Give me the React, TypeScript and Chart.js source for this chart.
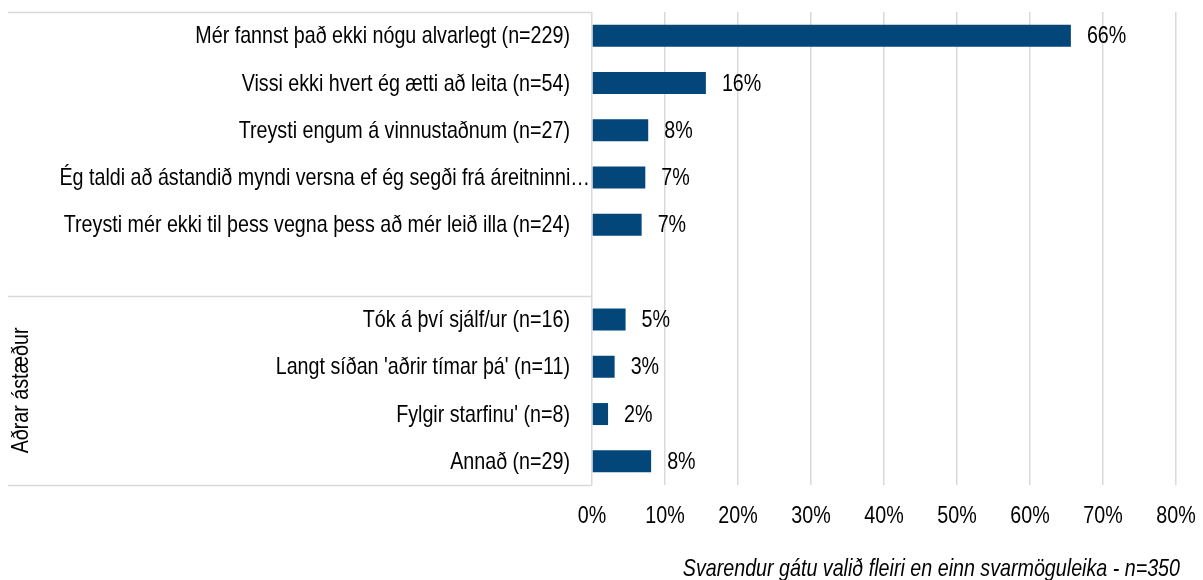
import React, { useEffect, useRef } from "react";
import { Chart, registerables } from "chart.js";

Chart.register(...registerables);

const categories: string[] = [
  "Mér fannst það ekki nógu alvarlegt (n=229)",
  "Vissi ekki hvert ég ætti að leita (n=54)",
  "Treysti engum á vinnustaðnum (n=27)",
  "Ég taldi að ástandið myndi versna ef ég segði frá áreitninni…",
  "Treysti mér ekki til þess vegna þess að mér leið illa (n=24)",
  "",
  "Tók á því sjálf/ur (n=16)",
  "Langt síðan 'aðrir tímar þá' (n=11)",
  "Fylgir starfinu' (n=8)",
  "Annað (n=29)",
];

const values: (number | null)[] = [65.6, 15.6, 7.7, 7.3, 6.8, null, 4.6, 3.1, 2.2, 8.1];

const xTicks: number[] = [0, 10, 20, 30, 40, 50, 60, 70, 80];

const groupLabel = "Aðrar ástæður";
const footnote = "Svarendur gátu valið fleiri en einn svarmöguleika - n=350";

const FONT = "'Liberation Sans', Arial, sans-serif";
const FS = 24;
const NARROW = 0.82;
const BAR = "#03467a";
const LINE = "#d9d9d9";

function narrowText(
  ctx: CanvasRenderingContext2D,
  text: string,
  x: number,
  y: number,
  align: CanvasTextAlign,
  italic = false,
  rotate = 0
) {
  ctx.save();
  ctx.font = `${italic ? "italic " : ""}${FS}px ${FONT}`;
  ctx.fillStyle = "#000";
  ctx.textAlign = align;
  ctx.textBaseline = "middle";
  ctx.translate(x, y);
  if (rotate) ctx.rotate(rotate);
  ctx.scale(NARROW, 1);
  ctx.fillText(text, 0, 0);
  ctx.restore();
}

const decorPlugin = {
  id: "decor",
  afterDatasetsDraw(chart: any) {
    const { ctx, chartArea, scales } = chart;
    const xs = scales.x;
    const ys = scales.y;
    const meta = chart.getDatasetMeta(0);
    ctx.save();
    // category labels
    categories.forEach((lab, i) => {
      if (!lab) return;
      const yy = ys.getPixelForTick(i) + 1;
      const right = lab.endsWith("…") ? chartArea.left - 2 : chartArea.left - 22;
      narrowText(ctx, lab, right, yy, "right");
    });
    // x tick labels
    xTicks.forEach((v) => {
      narrowText(ctx, v + "%", xs.getPixelForValue(v), chartArea.bottom + 31, "center");
    });
    // value labels
    meta.data.forEach((bar: any, i: number) => {
      const v = values[i];
      if (v == null) return;
      narrowText(ctx, Math.round(v) + "%", bar.x + 16, bar.y + 1, "left");
    });
    // group separator lines in label area
    const step = (chartArea.bottom - chartArea.top) / categories.length;
    const sepY = chartArea.top + step * 6;
    ctx.strokeStyle = LINE;
    ctx.lineWidth = 1.5;
    [chartArea.top, sepY, chartArea.bottom].forEach((yy) => {
      ctx.beginPath();
      ctx.moveTo(8, Math.round(yy) + 0.5);
      ctx.lineTo(chartArea.left, Math.round(yy) + 0.5);
      ctx.stroke();
    });
    // group label
    narrowText(ctx, groupLabel, 21, (sepY + chartArea.bottom) / 2, "center", false, -Math.PI / 2);
    // footnote
    narrowText(ctx, footnote, 1180, 569, "right", true);
    ctx.restore();
  },
};

export default function App() {
  const ref = useRef<HTMLCanvasElement | null>(null);
  useEffect(() => {
    if (!ref.current) return;
    const chart = new Chart(ref.current, {
      type: "bar",
      data: {
        labels: categories,
        datasets: [
          {
            data: values as any,
            backgroundColor: BAR,
            borderWidth: 0,
            barPercentage: 0.465,
            categoryPercentage: 1,
          },
        ],
      },
      options: {
        indexAxis: "y",
        animation: false,
        responsive: false,
        maintainAspectRatio: false,
        layout: { padding: { top: 12, right: 27, left: 0, bottom: 0 } },
        plugins: { legend: { display: false }, tooltip: { enabled: false } },
        scales: {
          x: {
            min: 0,
            max: 80,
            afterFit: (s: any) => {
              s.height = 95;
            },
            afterBuildTicks: (s: any) => {
              s.ticks = xTicks.map((v) => ({ value: v }));
            },
            grid: { color: LINE, lineWidth: 1.5, drawTicks: false },
            border: { display: false },
            ticks: { display: false },
          },
          y: {
            afterFit: (s: any) => {
              s.width = 592;
            },
            grid: { display: false, drawTicks: false },
            border: { display: false },
            ticks: { display: false, autoSkip: false },
          },
        },
      },
      plugins: [decorPlugin],
    });
    return () => chart.destroy();
  }, []);
  return (
    <div style={{ position: "absolute", left: 0, top: 0, width: 1203, height: 580, background: "#fff" }}>
      <canvas ref={ref} width={1203} height={580} style={{ width: 1203, height: 580 }} />
    </div>
  );
}
